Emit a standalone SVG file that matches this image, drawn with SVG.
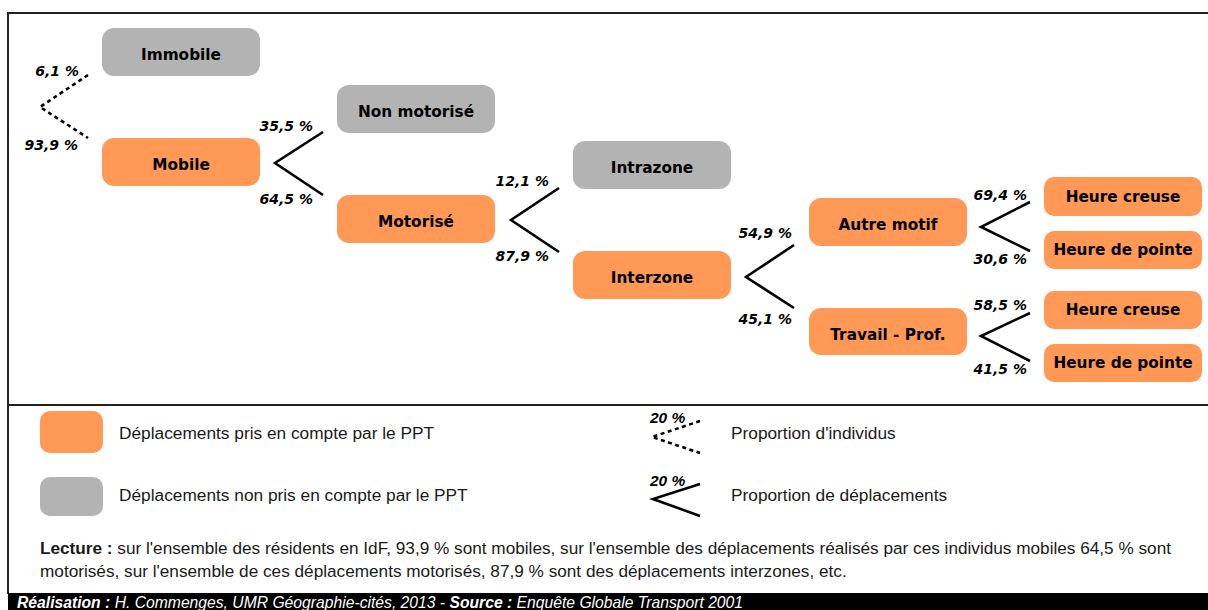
<svg xmlns="http://www.w3.org/2000/svg" width="1208" height="610" viewBox="0 0 1208 610">
<style>
.or{fill:#ff9955}
.gr{fill:#b3b3b3}
.nt{font-family:"DejaVu Sans",sans-serif;font-weight:bold;font-size:15.3px;fill:#000;text-anchor:middle}
.pc{font-family:"DejaVu Sans",sans-serif;font-weight:bold;font-style:italic;font-size:14px;fill:#000;text-anchor:end}
.sl{fill:none;stroke:#000;stroke-width:2.6}
.dl{fill:none;stroke:#000;stroke-width:2.6;stroke-dasharray:4,3.5}
.lg{font-family:"Liberation Sans",Arial,sans-serif;font-size:17.3px;fill:#1a1a1a}
.lp{font-family:"Liberation Sans",Arial,sans-serif;font-weight:bold;font-style:italic;font-size:15.5px;fill:#000}
.rd{font-family:"Liberation Sans",Arial,sans-serif;font-size:17.2px;fill:#1a1a1a}
.ft{font-family:"Liberation Sans",Arial,sans-serif;font-style:italic;font-size:15.7px;fill:#fff}
</style>
<rect width="1208" height="610" fill="#fff"/>
<g id="frame" fill="none" stroke="#222" stroke-width="2">
<path d="M1210,13 H8 V594"/>
<path d="M8,405 H1210"/>
</g>
<rect x="8" y="593" width="1202" height="17" fill="#000"/>
<g id="connectors">
<path class="dl" d="M88,75 L40,107 L88,138"/>
<path class="sl" d="M323,132 L275,163 L323,195"/>
<path class="sl" d="M559,188 L511,220 L559,252"/>
<path class="sl" d="M794,245 L746,277 L794,308"/>
<path class="sl" d="M1030,202 L981,227 L1030,251"/>
<path class="sl" d="M1030,313 L981,336 L1030,361"/>
</g>
<g id="labels">
<text class="pc" x="79" y="76">6,1 %</text>
<text class="pc" x="78" y="150">93,9 %</text>
<text class="pc" x="313" y="131">35,5 %</text>
<text class="pc" x="313" y="204">64,5 %</text>
<text class="pc" x="549" y="186">12,1 %</text>
<text class="pc" x="549" y="261">87,9 %</text>
<text class="pc" x="792" y="238">54,9 %</text>
<text class="pc" x="792" y="324">45,1 %</text>
<text class="pc" x="1027" y="200">69,4 %</text>
<text class="pc" x="1027" y="264">30,6 %</text>
<text class="pc" x="1027" y="310">58,5 %</text>
<text class="pc" x="1027" y="374">41,5 %</text>
</g>
<g id="immobile"><rect class="gr" x="102" y="28" width="158" height="48" rx="12"/><text class="nt" x="181" y="60">Immobile</text></g>
<g id="mobile"><rect class="or" x="102" y="138" width="158" height="48" rx="12"/><text class="nt" x="181" y="170">Mobile</text></g>
<g id="non-motorise"><rect class="gr" x="337" y="85" width="158" height="48" rx="12"/><text class="nt" x="416" y="117">Non motorisé</text></g>
<g id="motorise"><rect class="or" x="337" y="195" width="158" height="48" rx="12"/><text class="nt" x="416" y="227">Motorisé</text></g>
<g id="intrazone"><rect class="gr" x="573" y="141" width="158" height="48" rx="12"/><text class="nt" x="652" y="173">Intrazone</text></g>
<g id="interzone"><rect class="or" x="573" y="251" width="158" height="48" rx="12"/><text class="nt" x="652" y="283">Interzone</text></g>
<g id="autre-motif"><rect class="or" x="809" y="198" width="158" height="48" rx="12"/><text class="nt" x="888" y="230">Autre motif</text></g>
<g id="travail-prof"><rect class="or" x="809" y="308" width="158" height="47" rx="12"/><text class="nt" x="888" y="340">Travail - Prof.</text></g>
<g id="heure-creuse-1"><rect class="or" x="1044" y="177" width="158" height="39" rx="10"/><text class="nt" x="1123" y="202">Heure creuse</text></g>
<g id="heure-pointe-1"><rect class="or" x="1044" y="231" width="158" height="38" rx="10"/><text class="nt" x="1123" y="255">Heure de pointe</text></g>
<g id="heure-creuse-2"><rect class="or" x="1044" y="291" width="158" height="38" rx="10"/><text class="nt" x="1123" y="315">Heure creuse</text></g>
<g id="heure-pointe-2"><rect class="or" x="1044" y="344" width="158" height="38" rx="10"/><text class="nt" x="1123" y="368">Heure de pointe</text></g>
<g id="legend">
<rect class="or" x="40" y="411" width="63" height="42" rx="10"/>
<text class="lg" x="119" y="439">Déplacements pris en compte par le PPT</text>
<rect class="gr" x="40" y="477" width="63" height="39" rx="10"/>
<text class="lg" x="119" y="501">Déplacements non pris en compte par le PPT</text>
<path class="dl" d="M700,421 L652,437 L700,453" stroke-width="2.4" stroke-dasharray="3,3.5"/>
<text class="lp" x="650" y="423">20 %</text>
<text class="lg" x="731" y="439">Proportion d'individus</text>
<path class="sl" d="M700,484 L653,499 L700,516"/>
<text class="lp" x="650" y="486">20 %</text>
<text class="lg" x="731" y="501">Proportion de déplacements</text>
</g>
<g id="lecture">
<text class="rd" x="40" y="554"><tspan font-weight="bold">Lecture :</tspan> sur l'ensemble des résidents en IdF, 93,9 % sont mobiles, sur l'ensemble des déplacements réalisés par ces individus mobiles 64,5 % sont</text>
<text class="rd" x="40" y="577">motorisés, sur l'ensemble de ces déplacements motorisés, 87,9 % sont des déplacements interzones, etc.</text>
</g>
<g id="footer">
<text class="ft" x="17" y="608"><tspan font-weight="bold">Réalisation :</tspan> H. Commenges, UMR Géographie-cités, 2013 - <tspan font-weight="bold">Source :</tspan> Enquête Globale Transport 2001</text>
</g>
</svg>
